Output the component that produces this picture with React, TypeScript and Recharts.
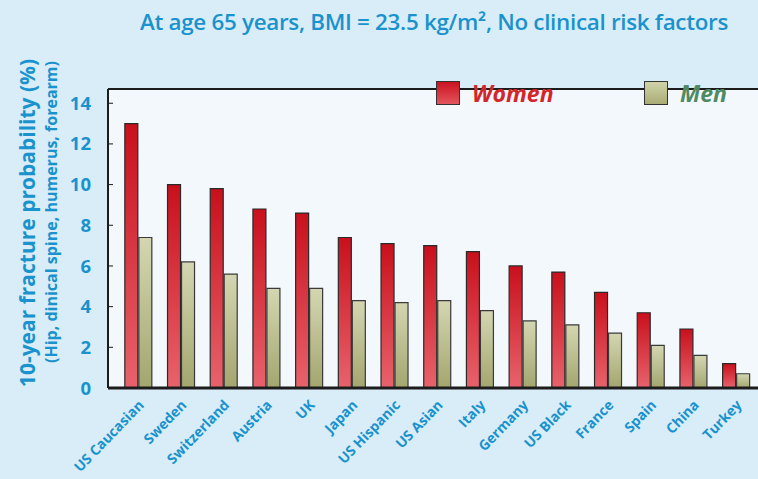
import React from "react";
import {
    BarChart,
    Bar,
    XAxis,
    YAxis,
    CartesianGrid,
    ReferenceLine,
    Legend,
} from "recharts";

const countries = [
    "US Caucasian", "Sweden", "Switzerland", "Austria", "UK", "Japan", "US Hispanic",
    "US Asian", "Italy", "Germany", "US Black", "France", "Spain", "China", "Turkey",
];
const women = [13.0, 10.0, 9.8, 8.8, 8.6, 7.4, 7.1, 7.0, 6.7, 6.0, 5.7, 4.7, 3.7, 2.9, 1.2];
const men = [7.4, 6.2, 5.6, 4.9, 4.9, 4.3, 4.2, 4.3, 3.8, 3.3, 3.1, 2.7, 2.1, 1.6, 0.7];
const yTicks = [0, 2, 4, 6, 8, 10, 12, 14];
const yMax = 14.7;

const data = countries.map((c, i) => ({ country: c, women: women[i], men: men[i] }));

const BLUE = "#1a92cd";
const FONT = "'Open Sans', 'Noto Sans', sans-serif";

const CountryTick = (props: any) => {
    const { x, payload } = props;
    const tx = x + 3;
    const ty = 402;
    return (
        <text
            x={tx}
            y={ty}
            transform={`rotate(-46, ${tx}, ${ty})`}
            textAnchor="end"
            dominantBaseline="central"
            fill={BLUE}
            fontSize={14}
            fontWeight={700}
            fontFamily={FONT}
        >
            {payload.value}
        </text>
    );
};

const LegendBox = (props: any) => {
    const items = [...(props.payload || [])].sort((a: any, b: any) =>
        a.dataKey === "women" ? -1 : b.dataKey === "women" ? 1 : 0
    );
    return (
        <div style={{ display: "flex", fontFamily: FONT }}>
            {items.map((it: any, i: number) => (
                <div key={i} style={{ display: "flex", alignItems: "center", width: i === 0 ? 208 : 100 }}>
                    <span
                        style={{
                            width: 22,
                            height: 22,
                            border: "1.5px solid #333",
                            background: it.dataKey === "women" ? "linear-gradient(#c9141f, #e4545d)" : "linear-gradient(#d0d3a8, #a9ac74)",
                            marginRight: 12,
                        }}
                    />
                    <span
                        style={{
                            fontSize: 23,
                            fontStyle: "italic",
                            fontWeight: 700,
                            color: it.dataKey === "women" ? "#d3262b" : "#4f8a62",
                        }}
                    >
                        {it.value}
                    </span>
                </div>
            ))}
        </div>
    );
};

const App: React.FC = () => {
    return (
        <div style={{ position: "absolute", left: 0, top: 0, width: 758, height: 479, background: "#d8edf8", fontFamily: FONT }}>
            <div style={{ position: "absolute", left: 140, top: 6, color: BLUE, fontSize: 22.4, fontWeight: 600, whiteSpace: "nowrap", letterSpacing: -0.3 }}>
                At age 65 years, BMI = 23.5 kg/m², No clinical risk factors
            </div>
            <div
                style={{
                    position: "absolute",
                    left: 27,
                    top: 223,
                    transform: "translate(-50%, -50%) rotate(-90deg)",
                    color: BLUE,
                    fontSize: 21,
                    fontWeight: 700,
                    whiteSpace: "nowrap",
                }}
            >
                10-year fracture probability (%)
            </div>
            <div
                style={{
                    position: "absolute",
                    left: 51,
                    top: 212,
                    transform: "translate(-50%, -50%) rotate(-90deg)",
                    color: BLUE,
                    fontSize: 16,
                    fontWeight: 700,
                    whiteSpace: "nowrap",
                }}
            >
                (Hip, dinical spine, humerus, forearm)
            </div>
            <BarChart
                width={758}
                height={479}
                data={data}
                margin={{ top: 57, right: 0, bottom: 0, left: 0 }}
                barCategoryGap="19.5%"
                barGap={1}
                style={{ position: "absolute", left: 0, top: 0 }}
            >
                <defs>
                    <linearGradient id="gWomen" x1="0" y1="0" x2="0" y2="1">
                        <stop offset="0%" stopColor="#c8101c" />
                        <stop offset="100%" stopColor="#e8636c" />
                    </linearGradient>
                    <linearGradient id="gMen" x1="0" y1="0" x2="0" y2="1">
                        <stop offset="0%" stopColor="#d4d6b2" />
                        <stop offset="100%" stopColor="#a3a66e" />
                    </linearGradient>
                </defs>
                <CartesianGrid fill="#f2f8fc" horizontal={false} vertical={false} />
                <XAxis
                    dataKey="country"
                    height={91}
                    interval={0}
                    padding={{ left: 8.5, right: 1 }}
                    axisLine={{ stroke: "#1c1c1c", strokeWidth: 3 }}
                    tickLine={false}
                    tick={<CountryTick />}
                />
                <YAxis
                    width={108}
                    domain={[0, yMax]}
                    ticks={yTicks}
                    allowDataOverflow
                    axisLine={{ stroke: "#1c1c1c", strokeWidth: 2 }}
                    tickLine={{ stroke: "#1c1c1c", strokeWidth: 1 }}
                    tickSize={-5}
                    tickMargin={22}
                    tick={{ fill: BLUE, fontSize: 18.5, fontWeight: 700, fontFamily: FONT }}
                />
                <ReferenceLine y={yMax} stroke="#1c1c1c" strokeWidth={2} />
                <Legend
                    verticalAlign="top"
                    align="left"
                    wrapperStyle={{ position: "absolute", top: 77, left: 436, width: 320 }}
                    content={<LegendBox />}
                />
                <Bar dataKey="women" name="Women" fill="url(#gWomen)" stroke="#2a2a2a" strokeWidth={1.2} isAnimationActive={false} />
                <Bar dataKey="men" name="Men" fill="url(#gMen)" stroke="#3a3a3a" strokeWidth={1.2} isAnimationActive={false} />
            </BarChart>
        </div>
    );
};

export default App;
